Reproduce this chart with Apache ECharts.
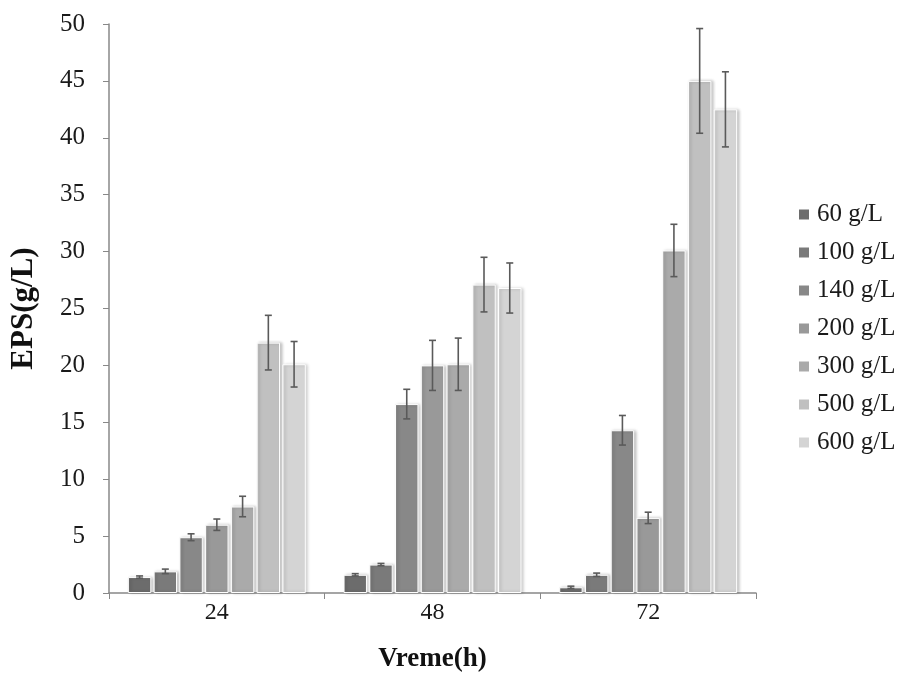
<!DOCTYPE html>
<html>
<head>
<meta charset="utf-8">
<script src="https://cdn.jsdelivr.net/npm/echarts@6/dist/echarts.min.js"></script>
<style>
  html, body { margin: 0; padding: 0; background: #fff; }
  #chart { width: 905px; height: 679px; }
</style>
</head>
<body>
<div id="chart"></div>
<script>
// Time points (h)
const categories = ['24', '48', '72'];

// Series names (substrate concentration)
const seriesNames = ['60 g/L', '100 g/L', '140 g/L', '200 g/L', '300 g/L', '500 g/L', '600 g/L'];

// EPS means (g/L) per concentration, at 24 / 48 / 72 h
const eps60  = [1.4, 1.6, 0.5];
const eps100 = [1.9, 2.5, 1.6];
const eps140 = [4.9, 16.6, 14.3];
const eps200 = [6.0, 20.0, 6.6];
const eps300 = [7.6, 20.1, 30.1];
const eps500 = [22.0, 27.1, 45.0];
const eps600 = [20.1, 26.8, 42.5];

// Standard deviations
const sd60  = [0.1, 0.1, 0.1];
const sd100 = [0.2, 0.1, 0.15];
const sd140 = [0.3, 1.3, 1.3];
const sd200 = [0.5, 2.2, 0.5];
const sd300 = [0.9, 2.3, 2.3];
const sd500 = [2.4, 2.4, 4.6];
const sd600 = [2.0, 2.2, 3.3];

const means = [eps60, eps100, eps140, eps200, eps300, eps500, eps600];
const sds = [sd60, sd100, sd140, sd200, sd300, sd500, sd600];
const colors = ['#6c6c6c', '#7a7a7a', '#888888', '#999999', '#aaaaaa', '#c0c0c0', '#d4d4d4'];

const BAR_GAP = 0.1;           // gap between bars, fraction of bar width
const CATEGORY_GAP = 0.175;    // gap between groups, fraction of band
const N = seriesNames.length;

const serif = '"Liberation Serif", "DejaVu Serif", serif';

const series = [];
seriesNames.forEach((name, i) => {
  series.push({
    name: name,
    type: 'bar',
    data: means[i],
    barGap: (BAR_GAP * 100) + '%',
    barCategoryGap: (CATEGORY_GAP * 100) + '%',
    itemStyle: {
      color: colors[i],
      borderColor: '#ffffff',
      borderWidth: 1,
      shadowColor: 'rgba(0,0,0,0.22)',
      shadowBlur: 3,
      shadowOffsetX: 2
    },
    z: 2
  });
});

// Error bars, placed at the centre of each bar within its group
seriesNames.forEach((name, i) => {
  const data = means[i].map((m, k) => [k, m - sds[i][k], m + sds[i][k]]);
  series.push({
    type: 'custom',
    name: name,
    data: data,
    z: 5,
    silent: true,
    encode: { x: 0, y: [1, 2] },
    renderItem: function (params, api) {
      const k = api.value(0);
      const band = api.size([1, 0])[0];
      const avail = band * (1 - CATEGORY_GAP);
      const w = avail / (N + (N - 1) * BAR_GAP);
      const offset = -avail / 2 + w / 2 + i * w * (1 + BAR_GAP);
      const lo = api.coord([k, api.value(1)]);
      const hi = api.coord([k, api.value(2)]);
      const x = lo[0] + offset;
      const cap = 3.5;
      const style = { stroke: '#5a5a5a', lineWidth: 1.6 };
      return {
        type: 'group',
        children: [
          { type: 'line', shape: { x1: x, y1: hi[1], x2: x, y2: lo[1] }, style: style },
          { type: 'line', shape: { x1: x - cap, y1: hi[1], x2: x + cap, y2: hi[1] }, style: style },
          { type: 'line', shape: { x1: x - cap, y1: lo[1], x2: x + cap, y2: lo[1] }, style: style }
        ]
      };
    }
  });
});

const chart = echarts.init(document.getElementById('chart'));
chart.setOption({
  backgroundColor: '#ffffff',
  animation: false,
  grid: { left: 107, right: 149, top: 24, bottom: 86 },
  legend: {
    data: seriesNames,
    orient: 'vertical',
    left: 792,
    top: 197,
    itemWidth: 12,
    itemHeight: 12,
    itemGap: 13,
    icon: 'rect',
    textStyle: { fontFamily: serif, fontSize: 25, color: '#1a1a1a', padding: [0, 0, 0, 2] }
  },
  xAxis: {
    type: 'category',
    data: categories,
    name: 'Vreme(h)',
    nameLocation: 'middle',
    nameGap: 53,
    nameTextStyle: { fontFamily: serif, fontSize: 27, fontWeight: 'bold', color: '#111' },
    axisLine: { lineStyle: { color: '#888888', width: 1.5 } },
    axisTick: { show: true, length: 6, lineStyle: { color: '#888888' } },
    axisLabel: { fontFamily: serif, fontSize: 24, color: '#1a1a1a', margin: 8 }
  },
  yAxis: {
    type: 'value',
    min: 0,
    max: 50,
    interval: 5,
    name: 'EPS(g/L)',
    nameLocation: 'middle',
    nameGap: 70,
    nameTextStyle: { fontFamily: serif, fontSize: 31, fontWeight: 'bold', color: '#111' },
    splitLine: { show: false },
    axisLine: { show: true, lineStyle: { color: '#888888', width: 1.5 } },
    axisTick: { show: true, length: 6, lineStyle: { color: '#888888' } },
    axisLabel: { fontFamily: serif, fontSize: 25, color: '#1a1a1a', margin: 24 }
  },
  series: series
});
</script>
</body>
</html>
